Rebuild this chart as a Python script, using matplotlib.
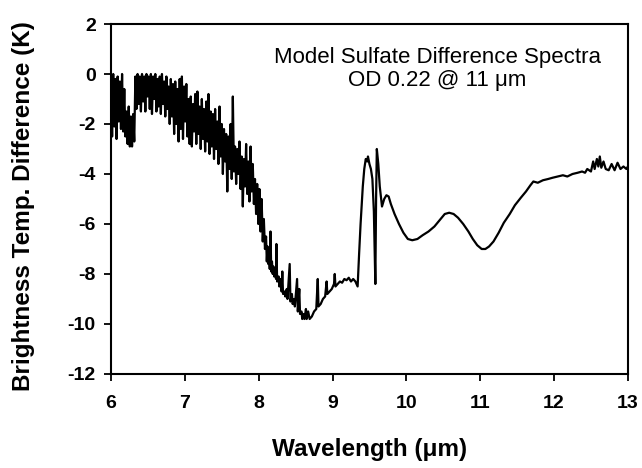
import matplotlib
matplotlib.use("Agg")
import matplotlib.pyplot as plt

plt.rcParams['font.family'] = ['Liberation Sans', 'DejaVu Sans']
plt.rcParams['axes.unicode_minus'] = False

# noisy part of the spectrum, 6.0 - 8.1 um
wl_noisy = [6.000, 6.015, 6.030, 6.045, 6.060, 6.075, 6.090, 6.105, 6.120, 6.135,
            6.150, 6.165, 6.180, 6.195, 6.210, 6.225, 6.240, 6.255, 6.270, 6.285,
            6.300, 6.315, 6.330, 6.345, 6.360, 6.375, 6.390, 6.405, 6.420, 6.435,
            6.450, 6.465, 6.480, 6.495, 6.510, 6.525, 6.540, 6.555, 6.570, 6.585,
            6.600, 6.615, 6.630, 6.645, 6.660, 6.675, 6.690, 6.705, 6.720, 6.735,
            6.750, 6.765, 6.780, 6.795, 6.810, 6.825, 6.840, 6.855, 6.870, 6.885,
            6.900, 6.915, 6.930, 6.945, 6.960, 6.975, 6.990, 7.005, 7.020, 7.035,
            7.050, 7.065, 7.080, 7.095, 7.110, 7.125, 7.140, 7.155, 7.170, 7.185,
            7.200, 7.215, 7.230, 7.245, 7.260, 7.275, 7.290, 7.305, 7.320, 7.335,
            7.350, 7.365, 7.380, 7.395, 7.410, 7.425, 7.440, 7.455, 7.470, 7.485,
            7.500, 7.515, 7.530, 7.545, 7.560, 7.575, 7.590, 7.605, 7.620, 7.635,
            7.650, 7.665, 7.680, 7.695, 7.710, 7.725, 7.740, 7.755, 7.770, 7.785,
            7.800, 7.815, 7.830, 7.845, 7.860, 7.875, 7.890, 7.905, 7.920, 7.935,
            7.950, 7.965, 7.980, 7.995, 8.010, 8.025, 8.040, 8.055, 8.070, 8.085]
bt_noisy = [-0.1, -2.5, 0.0, -2.1, -0.2, -2.6, -0.1, -1.9, -0.3, -2.2,
            0.0, -2.3, -0.6, -2.5, -1.5, -2.8, -1.3, -2.9, -1.7, -2.9,
            -1.6, -2.7, -0.1, -1.4, 0.0, -1.2, -0.1, -1.5, 0.0, -1.1,
            -0.1, -1.5, 0.0, -0.9, -0.1, -1.4, 0.0, -1.6, -0.1, -1.0,
            0.0, -1.5, -0.2, -1.3, -0.1, -1.6, 0.0, -1.2, -0.3, -1.7,
            -0.1, -1.4, -0.5, -2.0, -0.2, -1.7, -0.4, -2.4, -0.3, -2.0,
            -0.6, -2.7, -0.2, -2.2, -0.1, -2.6, -0.5, -1.9, -0.4, -2.5,
            -1.0, -2.8, -0.9, -2.9, -1.2, -2.3, -0.8, -2.8, -0.7, -2.4,
            -1.3, -3.0, -1.0, -2.6, -1.4, -3.1, -1.1, -2.7, -0.8, -3.2,
            -1.5, -2.9, -1.6, -3.4, -1.4, -3.0, -1.9, -3.6, -1.3, -3.3,
            -2.0, -4.0, -2.2, -3.5, -2.4, -4.7, -2.5, -3.8, -2.0, -4.2,
            -0.9, -3.9, -2.9, -4.4, -3.0, -4.0, -2.7, -4.6, -3.3, -5.3,
            -3.4, -4.5, -2.8, -4.8, -3.5, -5.1, -2.9, -4.7, -3.6, -5.2,
            -4.2, -5.6, -4.4, -6.0, -4.6, -6.3, -5.0, -6.7, -5.8, -7.0]

# trough with sparse spikes, 8.1 - 9.35 um
wl_trough = [8.10, 8.11, 8.12, 8.13, 8.14, 8.15, 8.16, 8.17, 8.18, 8.19,
             8.20, 8.21, 8.22, 8.235, 8.24, 8.25, 8.27, 8.28, 8.30, 8.31,
             8.32, 8.33, 8.35, 8.36, 8.38, 8.39, 8.42, 8.43, 8.45, 8.46,
             8.48, 8.49, 8.52, 8.53, 8.55, 8.56, 8.58, 8.59, 8.61, 8.62,
             8.64, 8.65, 8.67, 8.69, 8.72, 8.75, 8.78, 8.80, 8.81, 8.84,
             8.87, 8.90, 8.92, 8.93, 8.96, 8.99, 9.02, 9.03, 9.04, 9.07,
             9.10, 9.13, 9.16, 9.19, 9.22, 9.25, 9.28, 9.31, 9.34]
bt_trough = [-6.5, -7.5, -6.9, -7.6, -7.2, -7.8, -6.3, -7.9, -7.5, -8.0,
             -7.7, -8.1, -7.8, -8.2, -6.8, -8.3, -8.1, -8.5, -8.2, -8.7,
             -7.9, -8.8, -8.7, -8.9, -8.6, -9.0, -7.6, -9.1, -8.8, -9.2,
             -9.0, -9.3, -8.2, -9.5, -8.6, -9.6, -9.5, -9.8, -9.6, -9.8,
             -9.4, -9.8, -9.5, -9.8, -9.7, -9.5, -9.4, -8.2, -9.3, -9.2,
             -9.0, -8.9, -8.3, -8.8, -8.7, -8.6, -8.4, -8.0, -8.5, -8.4,
             -8.3, -8.35, -8.2, -8.25, -8.15, -8.3, -8.2, -8.3, -8.5]

# smooth long-wave part, 9.35 - 13 um
wl_long = [9.36, 9.38, 9.41, 9.43, 9.45, 9.47, 9.48, 9.50, 9.52, 9.54,
           9.56, 9.58, 9.59, 9.60, 9.62, 9.64, 9.67, 9.70, 9.73, 9.76,
           9.79, 9.84, 9.90, 9.96, 10.02, 10.08, 10.15, 10.22, 10.30, 10.38,
           10.45, 10.52, 10.58, 10.64, 10.70, 10.77, 10.84, 10.90, 10.96, 11.02,
           11.07, 11.12, 11.18, 11.25, 11.32, 11.40, 11.47, 11.55, 11.62, 11.68,
           11.72, 11.78, 11.85, 11.92, 11.98, 12.05, 12.12, 12.18, 12.25, 12.32,
           12.38, 12.42, 12.45, 12.50, 12.53, 12.55, 12.58, 12.60, 12.62, 12.64,
           12.67, 12.70, 12.74, 12.78, 12.82, 12.86, 12.90, 12.94, 12.98, 13.00]
bt_long = [-7.2, -6.0, -4.5, -3.8, -3.4, -3.5, -3.3, -3.6, -3.8, -4.2,
           -5.5, -8.4, -5.0, -3.0, -3.6, -4.5, -5.3, -5.0, -4.85, -4.9,
           -5.2, -5.6, -6.0, -6.35, -6.6, -6.65, -6.6, -6.45, -6.3, -6.1,
           -5.85, -5.6, -5.55, -5.6, -5.75, -6.0, -6.3, -6.6, -6.85, -7.0,
           -7.0, -6.9, -6.7, -6.35, -5.95, -5.6, -5.25, -4.95, -4.7, -4.45,
           -4.3, -4.35, -4.25, -4.2, -4.15, -4.1, -4.05, -4.1, -4.0, -3.95,
           -3.9, -3.95, -3.8, -3.9, -3.5, -3.8, -3.4, -3.7, -3.3, -3.75,
           -3.5, -3.8, -3.85, -3.6, -3.85, -3.55, -3.8, -3.7, -3.8, -3.7]

wl = wl_noisy + wl_trough + wl_long
bt = bt_noisy + bt_trough + bt_long

fig = plt.figure(figsize=(6.42, 4.68), dpi=100)
ax = fig.add_axes([0.1729, 0.2009, 0.8051, 0.7478])
ax.plot(wl, bt, color='black', lw=1.6)

ax.set_xlim(6, 13)
ax.set_ylim(-12, 2)
ax.set_xticks([6, 7, 8, 9, 10, 11, 12, 13])
ax.set_yticks([-12, -10, -8, -6, -4, -2, 0, 2])
ax.tick_params(direction='out', length=5, width=1.3, labelsize=14)
ax.tick_params(axis='x', pad=10)
ax.tick_params(axis='y', pad=6)
for lab in ax.get_xticklabels() + ax.get_yticklabels():
    lab.set_fontweight('bold')
for s in ax.spines.values():
    s.set_linewidth(1.5)

ax.set_xlabel('Wavelength (\u03bcm)', fontsize=17.5, fontweight='bold', va='center')
ax.xaxis.set_label_coords(0.5, -0.215)
ax.set_ylabel('Brightness Temp. Difference (K)', fontsize=17.5, fontweight='bold', va='center')
ax.yaxis.set_label_coords(-0.17, 0.48)

ax.text(10.42, 0.68, 'Model Sulfate Difference Spectra', ha='center', va='center', fontsize=16)
ax.text(10.42, -0.24, 'OD 0.22 @ 11 \u03bcm', ha='center', va='center', fontsize=16)

fig.savefig('out.png', dpi=100)
